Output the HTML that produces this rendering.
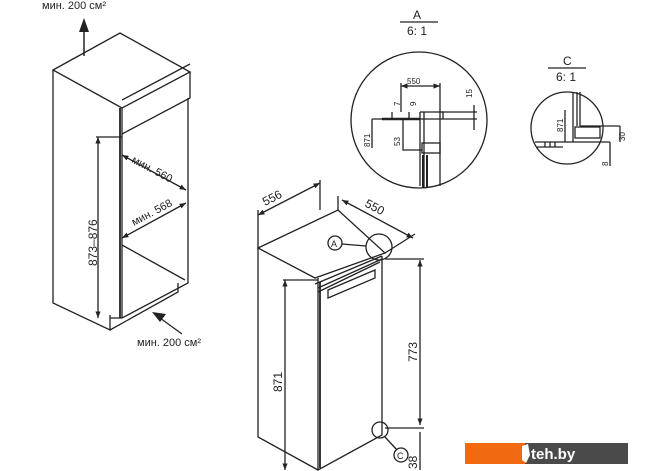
<!DOCTYPE html>
<html><head><meta charset="utf-8"><style>
html,body{margin:0;padding:0;background:#fff;}
svg{display:block;}
text{font-family:"Liberation Sans",sans-serif;fill:#222;}
</style></head><body>
<svg width="670" height="471" viewBox="0 0 670 471" xmlns="http://www.w3.org/2000/svg">
<defs>
<marker id="ar" viewBox="0 0 10 10" refX="10" refY="5" markerWidth="5" markerHeight="5" orient="auto-start-reverse"><path d="M0,1 L10,5 L0,9 z" fill="#222"/></marker>
</defs>
<g stroke="#222" stroke-width="1.3" fill="none">
<path d="M53,70 L120,33 L190,72 L122,108 Z"/>
<path d="M53,70 L53,303 L110,330 L110,315"/>
<path d="M122,108 L122,318"/>
<path d="M120,108 L120,318" stroke-width="1.8"/>
<path d="M190,72 L190,98 L122,134"/>
<path d="M122,100 L190,64" />
<path d="M188,98 L188,283 L122,318"/>
<path d="M122,245 L185,280"/>
<path d="M110,330 L178,292 L178,283"/>
<path d="M110,318 L122,318"/>
<path d="M98,137 L98,318" marker-start="url(#ar)" marker-end="url(#ar)"/>
<path d="M96,137 L122,137"/>
<path d="M122,155 L186,190" marker-start="url(#ar)" marker-end="url(#ar)"/>
<path d="M186,203 L122,238" marker-start="url(#ar)" marker-end="url(#ar)"/>
<path d="M84,56 L84,24" stroke-width="1.5"/>
<path d="M182,334 L160,318" stroke-width="1.3"/>
<path d="M258,248 L338,210 L385,253 L315,278 Z"/>
<path d="M258,248 L258,437 L318,470"/>
<path d="M318,278 L318,470 L382,435 L382,256"/>
<path d="M320,282 L320,468" stroke-width="1.8"/>
<path d="M315,284 L382,256 M318,292 L380,262 M318,288 L382,259"/>
<path d="M328,290 L375,270 L375,278 L328,298 Z"/>
<path d="M258,215 L320,183" marker-start="url(#ar)" marker-end="url(#ar)"/>
<path d="M258,210 L258,248 M320,180 L320,210"/>
<path d="M342,200 L413,238" marker-start="url(#ar)" marker-end="url(#ar)"/>
<path d="M338,196 L338,210 M415,234 L385,253"/>
<path d="M285,280 L285,470" marker-start="url(#ar)" marker-end="url(#ar)"/>
<path d="M283,280 L318,280"/>
<path d="M420,260 L420,425" marker-start="url(#ar)" marker-end="url(#ar)"/>
<path d="M385,259 L424,259 M385,428 L424,428"/>
<path d="M420,432 L420,470"/>
<circle cx="335" cy="243" r="7"/>
<path d="M342,244 L366,246"/>
<circle cx="379" cy="247" r="13"/>
<circle cx="380" cy="430" r="8"/>
<path d="M385,437 L397,450"/>
<circle cx="401" cy="455" r="7"/>
<path d="M400,22 L438,22 M548,68 L586,68"/>
<circle cx="419" cy="120" r="68"/>
<path d="M401,86 L440,86" marker-start="url(#ar)" marker-end="url(#ar)"/>
<path d="M401,83 L401,112 M440,83 L440,186"/>
<path d="M420,112 L477,112 M372,119 L477,119"/>
<path d="M440,112 L443,112 L443,119"/>
<path d="M382,119 L420,119" stroke-width="2.5"/>
<path d="M420,112 L420,186 M424,112 L424,188"/>
<path d="M423,155 L423,188 M427,155 L427,188" stroke-width="2"/>
<rect x="422" y="143" width="18" height="10"/>
<path d="M372,119 L372,148 M403,119 L403,150 L422,150 M392,112 L392,119 M409,112 L409,119 M474,105 L474,130"/>
<circle cx="567" cy="128" r="36"/>
<path d="M573,92 L573,142 M580,92 L580,126 M577,92 L577,126"/>
<rect x="575" y="127" width="25" height="11"/>
<path d="M580,126 L620,126 M535,142 L610,142 M537,147 L563,147 M565,110 L565,142 M620,126 L620,142 M610,142 L610,166"/>
<path d="M545,142 L545,147 M550,142 L550,147 M555,142 L555,147"/>
</g>
<path d="M84,18 L79,32 L89,32 Z" fill="#222"/>
<path d="M152,312 L166,314 L160,322 Z" fill="#222"/>
<g font-size="11">
<text x="42" y="9">мин. 200 см²</text>
<text x="137" y="346">мин. 200 см²</text>
<text x="0" y="0" transform="translate(131,162) rotate(28)">мин. 560</text>
<text x="0" y="0" transform="translate(134,226) rotate(-28)">мин. 568</text>
<text x="0" y="0" transform="translate(97,266) rotate(-90)" font-size="12">873–876</text>
<text x="0" y="0" transform="translate(265,206) rotate(-27)" font-size="12">556</text>
<text x="0" y="0" transform="translate(364,206) rotate(28)" font-size="12">550</text>
<text x="0" y="0" transform="translate(282,392) rotate(-90)" font-size="12">871</text>
<text x="0" y="0" transform="translate(417,362) rotate(-90)" font-size="12">773</text>
<text x="0" y="0" transform="translate(417,469) rotate(-90)" font-size="12">38</text>
<text x="331" y="247" font-size="9">A</text>
<text x="397" y="459" font-size="9">C</text>
<text x="413" y="19" font-size="12">A</text>
<text x="407" y="35" font-size="12">6: 1</text>
<text x="563" y="65" font-size="12">C</text>
<text x="556" y="81" font-size="12">6: 1</text>
<g font-size="8">
<text x="407" y="84">550</text>
<text x="0" y="0" transform="translate(370,147) rotate(-90)">871</text>
<text x="0" y="0" transform="translate(400,146) rotate(-90)">53</text>
<text x="0" y="0" transform="translate(400,106) rotate(-90)">7</text>
<text x="0" y="0" transform="translate(416,106) rotate(-90)">9</text>
<text x="0" y="0" transform="translate(472,98) rotate(-90)">15</text>
<text x="0" y="0" transform="translate(563,132) rotate(-90)">871</text>
<text x="0" y="0" transform="translate(625,141) rotate(-90)">30</text>
<text x="0" y="0" transform="translate(608,166) rotate(-90)">8</text>
</g>
</g>
<rect x="465" y="443" width="60" height="21" fill="#f26a10"/>
<rect x="525" y="443" width="103" height="21" fill="#4a4a4a"/>
<path d="M522,446 L528,444 L530,455 L526,463 L522,460 Z" fill="#fff"/>
<text x="531" y="459" font-size="15" font-weight="bold" style="fill:#fff">teh.by</text>
</svg>
</body></html>
